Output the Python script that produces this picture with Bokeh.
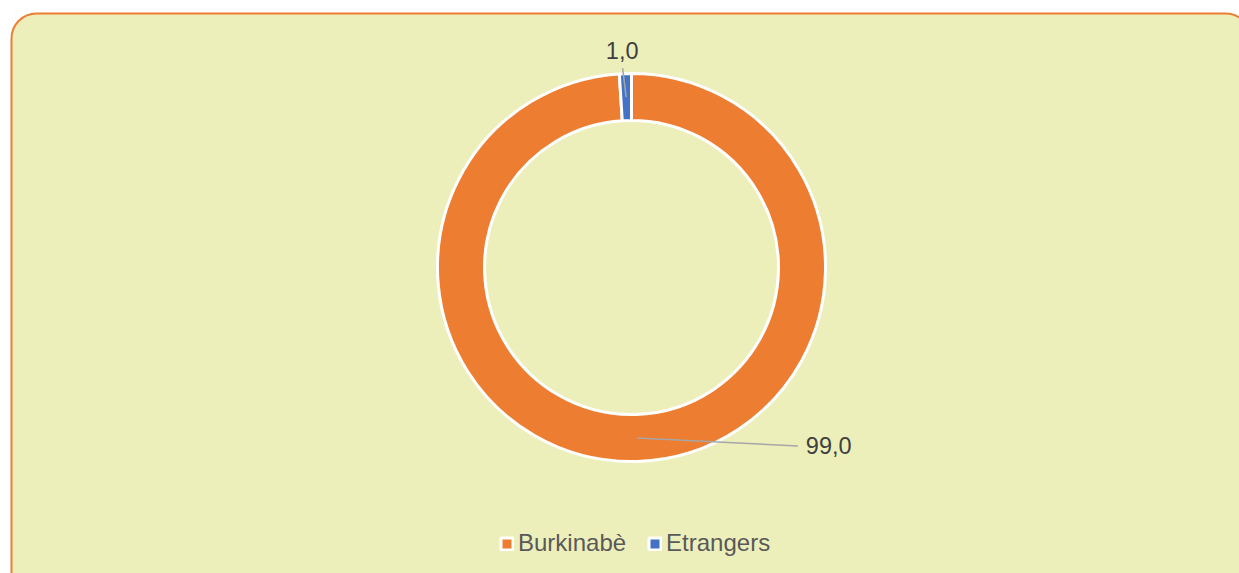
import numpy as np
from bokeh.plotting import figure
from bokeh.models import Range1d, BoxAnnotation, Legend, LegendItem, ColumnDataSource
from bokeh.core.properties import value
from bokeh.embed import file_html
from bokeh.resources import INLINE

# ---- data ----
categories = ["Burkinabè", "Etrangers"]
values = [99.0, 1.0]
colors = ["#ED7D31", "#4472C4"]

# ---- style / layout ----
W, H = 1239, 573
CX, CY = 631, 306
R_OUT, R_IN = 194, 147
FONT = "Liberation Sans"
# label offsets (dx, dy) from slice mid-point, and leader-line end offsets
label_offsets = [(169, -8), (-4, 47)]
leader_offsets = [(161, -8), (-3.5, 29)]
label_anchors = ["center_left", "center"]

vals = np.array(values)
total = vals.sum()
frac = vals / total
cum = np.concatenate([[0], np.cumsum(frac)[:-1]])
start = np.pi / 2 - 2 * np.pi * cum
end = start - 2 * np.pi * frac
mid = (start + end) / 2
r_mid = (R_OUT + R_IN) / 2
ax = CX + r_mid * np.cos(mid)
ay = CY + r_mid * np.sin(mid)

p = figure(width=W, height=H, x_range=Range1d(0, W), y_range=Range1d(0, H),
           output_backend="svg", toolbar_location=None, min_border=0,
           x_axis_type=None, y_axis_type=None)
p.grid.visible = False
p.outline_line_color = None
p.background_fill_color = "white"
p.border_fill_color = "white"

bg = BoxAnnotation(left=11, right=1250, top=H - 13, bottom=-40, border_radius=25,
                   fill_color="#EDEFBB", fill_alpha=1, line_color="#ED7D31",
                   line_alpha=1, line_width=2, level="underlay", editable=False)
p.add_layout(bg)

src = ColumnDataSource(dict(cat=categories, val=values, color=colors,
                            start=start, end=end))
wedges = p.annular_wedge(x=CX, y=CY, inner_radius=R_IN, outer_radius=R_OUT,
                         inner_radius_units="screen", outer_radius_units="screen",
                         start_angle="start", end_angle="end", direction="clock",
                         fill_color="color", line_color="white", line_width=3,
                         source=src)

# leader lines
lx = [ax[i] + leader_offsets[i][0] for i in range(len(values))]
ly = [ay[i] + leader_offsets[i][1] for i in range(len(values))]
p.segment(x0=list(ax), y0=list(ay), x1=lx, y1=ly, line_color="#A6A6A6", line_width=1.5)

for i, v in enumerate(values):
    txt = f"{v:.1f}".replace(".", ",")
    p.text(x=[ax[i] + label_offsets[i][0]], y=[ay[i] + label_offsets[i][1]], text=[txt],
           text_font=value(FONT), text_font_size="23.5px", text_color="#404040",
           text_align="left" if label_anchors[i] == "center_left" else "center",
           text_baseline="middle")

items = [LegendItem(label=c, renderers=[wedges], index=i) for i, c in enumerate(categories)]
legend = Legend(items=items, orientation="horizontal", location=(499, 16),
                label_text_font=FONT, label_text_font_size="24px",
                label_text_color="#595959", glyph_width=15, glyph_height=15,
                label_height=24, spacing=21, label_standoff=4, padding=0, margin=0,
                border_line_color=None, background_fill_alpha=0)
p.add_layout(legend)

open("out.html", "w").write(file_html(p, INLINE))
